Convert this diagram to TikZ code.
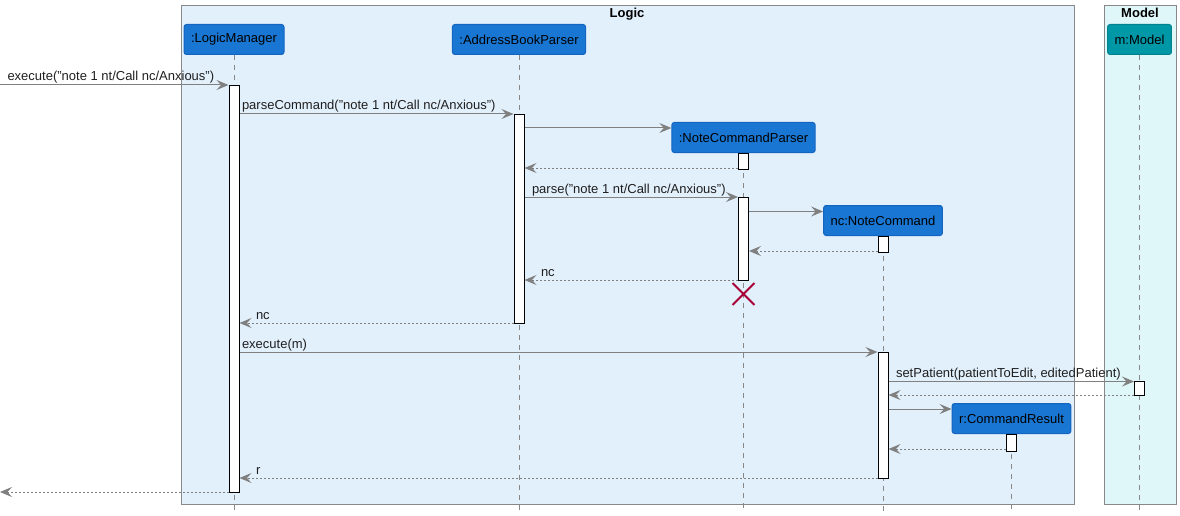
\documentclass[tikz,border=0pt]{standalone}
\usepackage{fontspec}
\setmainfont{Liberation Sans}
\usetikzlibrary{arrows.meta}
\usetikzlibrary{calc}
\usetikzlibrary{shapes.misc}

\definecolor{logicbg}{HTML}{E2F0FC}
\definecolor{modelbg}{HTML}{E0F7F9}
\definecolor{framegray}{HTML}{888888}
\definecolor{headblue}{HTML}{1976D2}
\definecolor{headedge}{HTML}{1565C0}
\definecolor{modelteal}{HTML}{0097A7}
\definecolor{modeledge}{HTML}{00838F}
\definecolor{arrowgray}{HTML}{808080}
\definecolor{destroyred}{HTML}{A80036}

\begin{document}
\begin{tikzpicture}[x=1pt, y=-1pt, line width=1pt,
  font=\fontsize{13}{15}\selectfont,
  frame/.style={draw=framegray},
  boxtitle/.style={anchor=base, inner sep=0pt, font=\fontsize{13}{15}\selectfont\bfseries},
  head/.style={draw=headedge, fill=headblue, rounded corners=2.5pt, anchor=north,
    minimum height=30pt, inner xsep=7pt, inner ysep=0pt, text=black},
  act/.style={draw=black, fill=white, anchor=north, minimum width=10pt, inner sep=0pt},
  lifeline/.style={draw=framegray, dash pattern=on 5pt off 5pt},
  msg/.style={draw=arrowgray, -{Stealth[length=12pt, width=10pt, inset=4.5pt]}},
  ret/.style={msg, dash pattern=on 2pt off 2pt},
  lbl/.style={anchor=base west, inner sep=0pt, text=black!88},
]
\useasboundingbox (0,0) rectangle (1180,516);

% Boxes
\draw[frame, fill=logicbg] (181,6) rectangle (1074,504);
\draw[frame, fill=modelbg] (1104,6) rectangle (1176,504);
\node[boxtitle] (logicT) at (627,17.5) {Logic};
\node[boxtitle] (modelT) at (1140,17.5) {Model};

% Participants
\node[head] (lm) at (234,24) {:LogicManager};
\node[head] (abp) at (519,24) {:AddressBookParser};
\node[head, fill=modelteal, draw=modeledge] (model) at (1139.5,24) {m:Model};
\node[head] (ncp) at (743.5,122) {:NoteCommandParser};
\node[head] (nc) at (883,205) {nc:NoteCommand};
\node[head] (cr) at (1011.5,403) {r:CommandResult};

% Lifelines
\foreach \p in {lm,abp,model,ncp,nc,cr}
  \draw[lifeline] (\p.south) -- (\p.south |- 0,512);

% Activation bars
\node[act, minimum height=407pt] (lmA) at (234,85) {};
\node[act, minimum height=209pt] (abpA) at (519,114) {};
\node[act, minimum height=16pt] (ncpA) at (ncp.south) {};
\node[act, minimum height=83pt] (ncpB) at (743.5,197) {};
\node[act, minimum height=16pt] (ncA) at (nc.south) {};
\node[act, minimum height=126pt] (ncB) at (883,352) {};
\node[act, minimum height=14pt] (modelA) at (1139.5,381) {};
\node[act, minimum height=17pt] (crA) at (cr.south) {};

% Messages
\coordinate (entry) at (0,85);
\coordinate (exit) at (0,492);
\draw[msg] (entry) -- (lmA.west |- entry)
  node[lbl, pos=0, xshift=7pt, yshift=4pt] {execute("note 1 nt/Call nc/Anxious")};
\draw[msg] (lmA.east |- 0,114) -- (abpA.west |- 0,114)
  node[lbl, pos=0, xshift=2pt, yshift=4pt] {parseCommand("note 1 nt/Call nc/Anxious")};
\draw[msg] (abpA.east |- 0,128) -- (ncp.west |- 0,128);
\draw[ret] (ncpA.west |- 0,168) -- (abpA.east |- 0,168);
\draw[msg] (abpA.east |- 0,197) -- (ncpB.west |- 0,197)
  node[lbl, pos=0, xshift=7pt, yshift=4pt] {parse("note 1 nt/Call nc/Anxious")};
\draw[msg] (ncpB.east |- 0,211.5) -- (nc.west |- 0,211.5);
\draw[ret] (ncA.west |- 0,251) -- (ncpB.east |- 0,251);
\draw[ret] (ncpB.west |- 0,280) -- (abpA.east |- 0,280)
  node[lbl, pos=1, xshift=16pt, yshift=4pt] {nc};
\node[cross out, draw=destroyred, line width=1.8pt, minimum size=20pt, inner sep=0pt] (ncpX) at (743.5,294) {};
\draw[ret] (abpA.west |- 0,323) -- (lmA.east |- 0,323)
  node[lbl, pos=1, xshift=16pt, yshift=4pt] {nc};
\draw[msg] (lmA.east |- 0,352) -- (ncB.west |- 0,352)
  node[lbl, pos=0, xshift=2pt, yshift=4pt] {execute(m)};
\draw[msg] (ncB.east |- 0,381.5) -- (modelA.west |- 0,381.5)
  node[lbl, pos=0, xshift=7pt, yshift=4pt] {setPatient(patientToEdit, editedPatient)};
\draw[ret] (modelA.west |- 0,395) -- (ncB.east |- 0,395);
\draw[msg] (ncB.east |- 0,409) -- (cr.west |- 0,409);
\draw[ret] (crA.west |- 0,449) -- (ncB.east |- 0,449);
\draw[ret] (ncB.west |- 0,478) -- (lmA.east |- 0,478)
  node[lbl, pos=1, xshift=16pt, yshift=4pt] {r};
\draw[ret] (lmA.west |- exit) -- (exit);

\end{tikzpicture}
\end{document}
